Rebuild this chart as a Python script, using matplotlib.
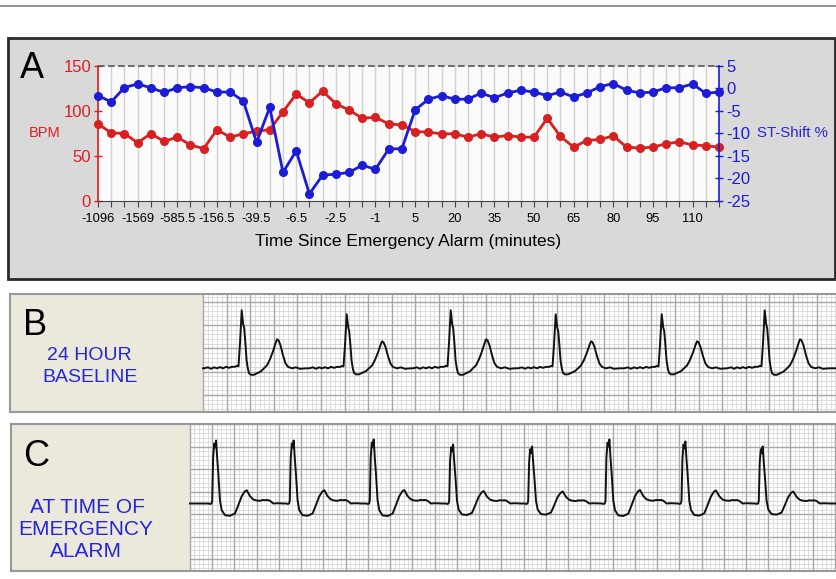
import matplotlib
matplotlib.use("Agg")
import matplotlib.pyplot as plt
import numpy as np
from matplotlib.lines import Line2D
from matplotlib.patches import Rectangle

plt.rcParams["font.family"] = ["Liberation Sans", "DejaVu Sans"]
plt.rcParams["axes.unicode_minus"] = False

W, H = 837, 579

# Painel A - tendência (um ponto por categoria de tempo)
bpm = [85.5, 75.6, 74.8, 64.5, 74.8, 66, 70.8, 62, 58, 79, 70.8, 74.5,
       77.4, 79, 99, 118.7, 109, 122, 108, 101, 91.8, 92.9, 85.5, 84.4,
       77, 76.3, 74.5, 74.5, 70.8, 74.5, 70.8, 72.6, 70.8, 70.8, 91.8, 71.5,
       59.7, 67, 68.2, 72.2, 59.7, 58.6, 59.7, 63.4, 65.6, 62, 61.2, 59.7]
st_shift = [-1.6, -3.0, 0.2, 1.0, 0.15, -0.9, 0.15, 0.4, 0.15, -0.8, -0.8, -2.8,
            -12.0, -4.2, -18.7, -13.9, -23.5, -19.3, -19.1, -18.7, -17.1, -18.0, -13.5, -13.4,
            -4.8, -2.4, -1.6, -2.4, -2.4, -1.0, -2.1, -1.0, -0.4, -0.8, -1.6, -0.8,
            -1.9, -1.0, 0.4, 1.1, -0.4, -1.0, -0.8, 0.15, 0.15, 1.0, -1.1, -0.8]
time_labels = ["-1096", "-1569", "-585.5", "-156.5", "-39.5", "-6.5", "-2.5", "-1",
               "5", "20", "35", "50", "65", "80", "95", "110"]
label_step = 3

# Painel B - ECG basal (posições em pixels da figura)
base_r_pos = [242, 347, 451, 556, 662, 765]
base_r_amp = [58, 54, 58, 54, 54, 58]
base_dx = [-38, -34, -31, -28, -25, -22, -19, -16, -13, -10, -7, -5, -3.5, -2, -0.3,
           1.2, 2.2, 3.4, 4.6, 5.8, 7, 9, 12, 15, 19, 22, 25, 28, 31, 33.5, 35, 36.5, 38.5,
           41, 43.5, 46, 50, 54, 58, 64]
base_dy = [0, 1, -0.5, 1, 0, 1.2, 0, 1.5, 0.5, 1.5, 1.5, 2.5, 2, 25, 58,
           44, 40, 25, 8, 0, -5, -6.5, -6.5, -5, -3, 0, 3, 9, 17, 25, 29, 28, 23,
           13, 5, 1.5, 0, 1, -0.5, 0]

# Painel C - ECG no alarme
alarm_r_pos = [215.7, 293.3, 373.3, 452.7, 531.7, 609, 685, 762.3]
alarm_r_amp = [63, 63, 64, 59, 57, 64, 62, 57]
alarm_dx = [-7, -5.5, -4.2, -3.5, -2.6, -1.5, -0.6, 0.4, 1.5, 2.6, 4.3, 6, 9.3,
            14.3, 19.3, 22.6, 26, 29, 31, 34.3, 37.6, 41, 44.3, 47, 49.3, 52, 54.3,
            57.6, 62, 68]
alarm_dy = [0, -0.5, 0, 3, 45, 60, 56, 63, 45, 30, 3, -6.7, -11.7,
            -12.3, -10, -1.7, 7.3, 12, 13.3, 7.3, 4, 3, 2.7, 3.5, 3.3, 3.5, 2.7,
            0, 0.3, 0]

VERMELHO = "#d92020"
AZUL = "#1c1cd8"
AZUL_TXT = "#2626d8"
BEGE = "#ebe8dc"


def fig_rect(x0, y0, x1, y1):
    return [x0 / W, 1 - y1 / H, (x1 - x0) / W, (y1 - y0) / H]


def tracado(r_pos, r_amp, dx, dy, x_ini, x_fim, base):
    pico = max(dy)
    xs, ys = [x_ini], [base]
    for r, a in zip(r_pos, r_amp):
        for u, v in zip(dx, dy):
            xs.append(r + u)
            ys.append(base - v * a / pico)
    xs.append(x_fim)
    ys.append(base)
    return xs, ys


def painel_ecg(fig, box, gx0, passo_x, gy0, passo_y, r_pos, r_amp, dx, dy, base):
    x0, y0, x1, y1 = box
    ax = fig.add_axes(fig_rect(x0, y0, x1, y1))
    ax.set_xlim(x0, x1)
    ax.set_ylim(y1, y0)
    ax.set_xticks([])
    ax.set_yticks([])
    for s in ax.spines.values():
        s.set_color("#999999")
        s.set_linewidth(1.5)
    ax.add_patch(Rectangle((x0, y0), gx0 - x0, y1 - y0, facecolor=BEGE, edgecolor="none", zorder=0))

    # grade milimetrada
    fino_x = np.arange(gx0, x1, passo_x / 5)
    fino_y = np.arange(gy0 - passo_y, y1, passo_y / 5)
    fino_y = fino_y[fino_y > y0]
    ax.vlines(fino_x, y0, y1, color="#d8d8d8", lw=0.6, zorder=1)
    ax.hlines(fino_y, gx0, x1, color="#d8d8d8", lw=0.6, zorder=1)
    grosso_x = np.arange(gx0, x1, passo_x)
    grosso_y = np.arange(gy0, y1, passo_y)
    ax.vlines(grosso_x, y0, y1, color="#a8a8a8", lw=1.0, zorder=2)
    ax.hlines(grosso_y, gx0, x1, color="#a8a8a8", lw=1.0, zorder=2)

    xs, ys = tracado(r_pos, r_amp, dx, dy, gx0, x1, base)
    ax.plot(xs, ys, color="#111111", lw=1.4, zorder=3)
    return ax


fig = plt.figure(figsize=(W / 100, H / 100), dpi=100)
fig.patch.set_facecolor("white")

fig.add_artist(Line2D([0, 1], [1 - 5.5 / H] * 2, transform=fig.transFigure, color="#8a8a8a", lw=1.3))

# ---------------- Painel A ----------------
fig.add_artist(Rectangle((8 / W, 1 - 279 / H), (835 - 8) / W, (279 - 38) / H, transform=fig.transFigure,
                         facecolor="#d9d9d9", edgecolor="#2a2a2a", lw=2, zorder=0))

ax = fig.add_axes(fig_rect(98, 66, 719, 200.7))
ax.set_facecolor("#fbfbfb")
x = np.arange(len(bpm))
ax.set_xlim(0, len(bpm) - 1)
ax.set_ylim(0, 150)
ax.set_xticks(x)
ax.set_xticklabels([time_labels[i // label_step] if i % label_step == 0 else "" for i in x])
ax.grid(axis="x", color="#d2d2d2", lw=1)
ax.grid(axis="y", visible=False)
ax.axhline(150, color="#555555", ls=(0, (4, 2)), lw=1.2, clip_on=False, zorder=4)
ax.plot(x, bpm, color=VERMELHO, marker="o", ms=5.5, lw=2, zorder=5, clip_on=False)

ax.set_yticks([0, 50, 100, 150])
ax.tick_params(axis="y", colors=VERMELHO, labelsize=12, length=6, width=1, direction="inout", pad=2)
ax.tick_params(axis="x", colors="#444444", labelcolor="black", labelsize=9.3, length=4, direction="out", pad=5)
ax.spines["left"].set_color(VERMELHO)
ax.spines["left"].set_linewidth(1.2)
ax.spines["right"].set_visible(False)
ax.spines["top"].set_visible(False)
ax.spines["bottom"].set_color("#444444")
ax.set_xlabel("Time Since Emergency Alarm (minutes)", fontsize=12.5, labelpad=6)

ax2 = ax.twinx()
ax2.set_ylim(-25, 5)
ax2.set_yticks(np.arange(-25, 6, 5))
ax2.plot(x, st_shift, color=AZUL, marker="o", ms=5.5, lw=2, zorder=5, clip_on=False)
ax2.tick_params(axis="y", colors=AZUL, labelsize=12, length=6, width=1, direction="inout", pad=2)
for lado in ["left", "top", "bottom"]:
    ax2.spines[lado].set_visible(False)
ax2.spines["right"].set_color(AZUL)
ax2.spines["right"].set_linewidth(1.2)

fig.text(20 / W, 1 - 78.5 / H, "A", fontsize=26, va="baseline", ha="left")
fig.text(45 / W, 1 - 133 / H, "BPM", fontsize=10.5, color=VERMELHO, va="center", ha="center")
fig.text(757 / W, 1 - 133 / H, "ST-Shift %", fontsize=10.8, color=AZUL_TXT, va="center", ha="left")

# ---------------- Painel B ----------------
painel_ecg(fig, (10, 294, 839, 411.5), 203, 23.6, 301.8, 23.3,
           base_r_pos, base_r_amp, base_dx, base_dy, 368.3)
fig.text(23 / W, 1 - 335 / H, "B", fontsize=26, va="baseline", ha="left")
fig.text(89 / W, 1 - 355 / H, "24 HOUR", fontsize=14, color=AZUL_TXT, va="center", ha="center")
fig.text(90 / W, 1 - 378 / H, "BASELINE", fontsize=14, color=AZUL_TXT, va="center", ha="center")

# ---------------- Painel C ----------------
painel_ecg(fig, (11, 424, 839, 570.7), 190, 22.24, 424, 22.5,
           alarm_r_pos, alarm_r_amp, alarm_dx, alarm_dy, 503.5)
fig.text(23 / W, 1 - 466 / H, "C", fontsize=26, va="baseline", ha="left")
fig.text(87 / W, 1 - 507.7 / H, "AT TIME OF", fontsize=15, color=AZUL_TXT, va="center", ha="center")
fig.text(86 / W, 1 - 529.3 / H, "EMERGENCY", fontsize=15, color=AZUL_TXT, va="center", ha="center")
fig.text(86 / W, 1 - 551.7 / H, "ALARM", fontsize=15, color=AZUL_TXT, va="center", ha="center")

fig.savefig("out.png", dpi=100)
